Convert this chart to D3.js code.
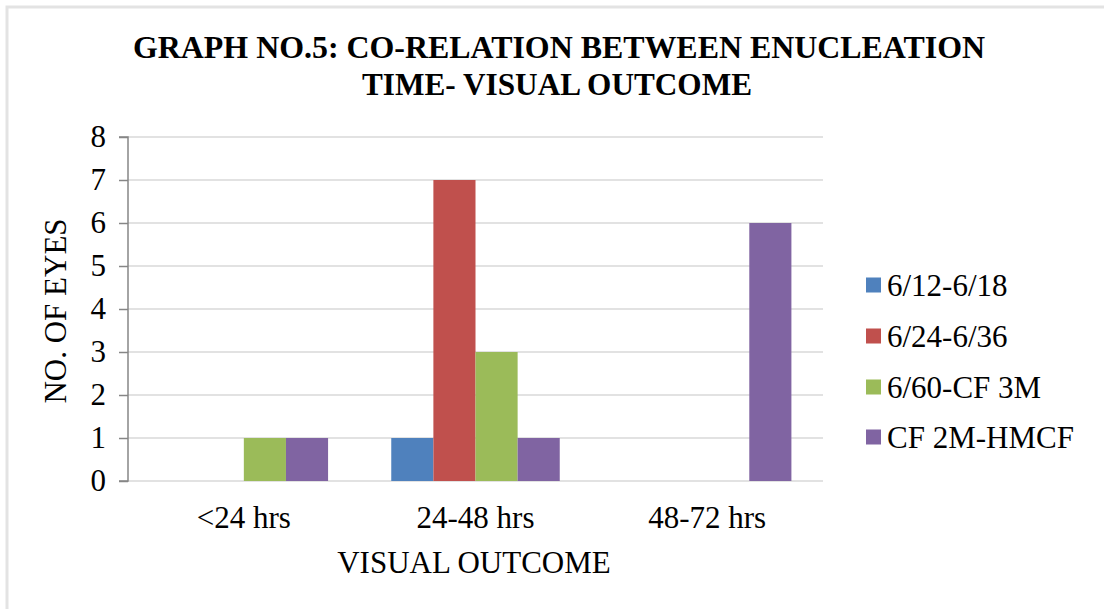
<!DOCTYPE html>
<html>
<head>
<meta charset="utf-8">
<script src="https://cdn.jsdelivr.net/npm/d3@7"></script>
<style>
  html, body { margin: 0; padding: 0; background: #fff; }
  svg { display: block; font-family: "Times New Roman", "Liberation Serif", Tinos, serif; }
</style>
</head>
<body>
<svg id="chart" width="1104" height="609"></svg>
<script>
// Enucleation time groups and visual outcome series
const categories = ["<24 hrs", "24-48 hrs", "48-72 hrs"];
const seriesNames = ["6/12-6/18", "6/24-6/36", "6/60-CF 3M", "CF 2M-HMCF"];
const seriesColors = ["#4F81BD", "#C0504D", "#9BBB59", "#8064A2"];
const values612 = [0, 1, 0];
const values624 = [0, 7, 0];
const values660 = [1, 3, 0];
const valuesCF2M = [1, 1, 6];
const yTicks = [0, 1, 2, 3, 4, 5, 6, 7, 8];

const seriesValues = [values612, values624, values660, valuesCF2M];
const SERIF = "'Times New Roman', 'Liberation Serif', Tinos, serif";
const FS = 31;

const svg = d3.select("#chart");

// faint frame along the top and left edges
svg.append("path")
  .attr("d", "M7,609 V7 H1104")
  .attr("fill", "none")
  .attr("stroke", "#e3e3e3")
  .attr("stroke-width", 3);

const plot = { left: 128, right: 823, top: 137, bottom: 481 };

const x0 = d3.scaleBand()
  .domain(categories)
  .range([plot.left, plot.right])
  .padding(0);

// bars fill 4 of 5.5 bar-widths of each band, centred in it
const barW = x0.bandwidth() / 5.5;
const xCenter = c => x0(c) + x0.bandwidth() / 2;
const x1 = d3.scaleBand()
  .domain(seriesNames)
  .range([-2 * barW, 2 * barW])
  .padding(0);

const y = d3.scaleLinear().domain([0, 8]).range([plot.bottom, plot.top]);

// gridlines
svg.append("g")
  .selectAll("line")
  .data(yTicks)
  .join("line")
  .attr("x1", plot.left)
  .attr("x2", plot.right)
  .attr("y1", d => y(d))
  .attr("y2", d => y(d))
  .attr("stroke", "#d9d9d9")
  .attr("stroke-width", 1.5);

// bars
const groups = svg.append("g")
  .selectAll("g")
  .data(categories)
  .join("g")
  .attr("transform", c => `translate(${xCenter(c)},0)`);

groups.selectAll("rect")
  .data((c, ci) => seriesNames.map((s, si) => ({ s, si, v: seriesValues[si][ci] })))
  .join("rect")
  .attr("x", d => x1(d.s))
  .attr("width", x1.bandwidth())
  .attr("y", d => y(d.v))
  .attr("height", d => y(0) - y(d.v))
  .attr("fill", d => seriesColors[d.si]);

// y axis
const yAxis = d3.axisLeft(y)
  .tickValues(yTicks)
  .tickFormat(d3.format("d"))
  .tickSize(9)
  .tickPadding(13);

const yg = svg.append("g")
  .attr("transform", `translate(${plot.left},0)`)
  .call(yAxis)
  .attr("font-family", null);
yg.select(".domain").attr("stroke", "#868686").attr("stroke-width", 1.5)
  .attr("d", `M${-9},${plot.top}H0V${plot.bottom}H${-9}`);
yg.selectAll(".tick line").attr("stroke", "#868686").attr("stroke-width", 1.5);
yg.selectAll(".tick text")
  .style("font-family", SERIF)
  .style("font-size", FS + "px")
  .attr("fill", "#000");

// x axis labels
const xAxis = d3.axisBottom(x0).tickSize(0).tickPadding(0);
const xg = svg.append("g")
  .attr("transform", `translate(0,${plot.bottom})`)
  .call(xAxis)
  .attr("font-family", null);
xg.select(".domain").remove();
xg.selectAll(".tick text")
  .style("font-family", SERIF)
  .style("font-size", FS + "px")
  .attr("fill", "#000")
  .attr("dy", null)
  .attr("y", 47);

// axis titles
svg.append("text")
  .attr("x", 474)
  .attr("y", 573)
  .attr("text-anchor", "middle")
  .style("font-family", SERIF)
  .style("font-size", FS + "px")
  .text("VISUAL OUTCOME");

svg.append("text")
  .attr("transform", "translate(66,311) rotate(-90)")
  .attr("text-anchor", "middle")
  .style("font-family", SERIF)
  .style("font-size", FS + "px")
  .text("NO. OF EYES");

// title
svg.append("text")
  .attr("x", 133)
  .attr("y", 58)
  .style("font-family", SERIF)
  .style("font-size", "32px")
  .style("font-weight", "bold")
  .attr("textLength", 852)
  .attr("lengthAdjust", "spacingAndGlyphs")
  .text("GRAPH NO.5: CO-RELATION BETWEEN ENUCLEATION");

svg.append("text")
  .attr("x", 362)
  .attr("y", 95)
  .style("font-family", SERIF)
  .style("font-size", "32px")
  .style("font-weight", "bold")
  .attr("textLength", 390)
  .attr("lengthAdjust", "spacingAndGlyphs")
  .text("TIME- VISUAL OUTCOME");

// legend
const legendRows = [285, 336, 387, 437];
const legend = svg.append("g")
  .selectAll("g")
  .data(seriesNames)
  .join("g")
  .attr("transform", (d, i) => `translate(866,${legendRows[i]})`);

legend.append("rect")
  .attr("x", 0)
  .attr("y", -7.5)
  .attr("width", 15)
  .attr("height", 15)
  .attr("fill", (d, i) => seriesColors[i]);

legend.append("text")
  .attr("x", 21)
  .attr("y", 11)
  .style("font-family", SERIF)
  .style("font-size", FS + "px")
  .text(d => d);
</script>
</body>
</html>
